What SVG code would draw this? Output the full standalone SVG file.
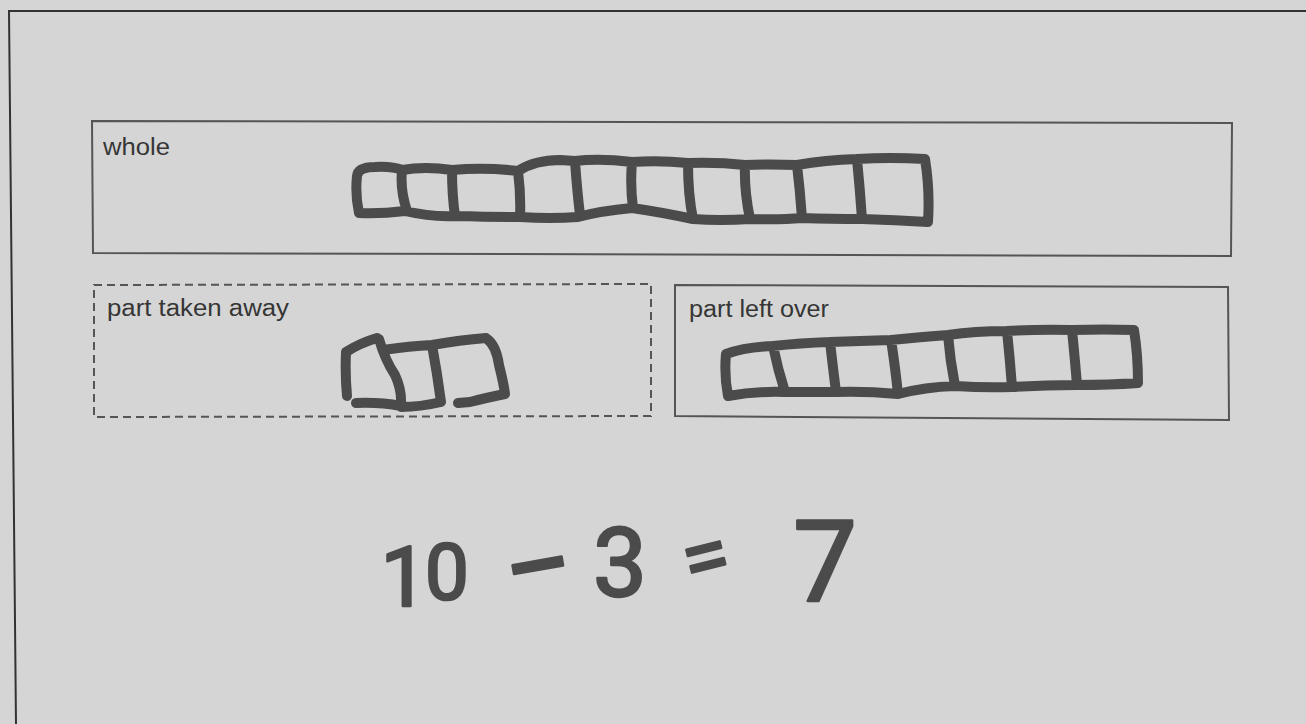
<svg xmlns="http://www.w3.org/2000/svg" width="1306" height="724" viewBox="0 0 1306 724">
<style>
.frame{fill:none;stroke:#333;stroke-width:2}
.box{fill:none;stroke:#555;stroke-width:2}
.dash{fill:none;stroke:#555;stroke-width:2;stroke-dasharray:8 5}
.marker{fill:none;stroke:#4b4b4b;stroke-width:10;stroke-linecap:round;stroke-linejoin:round}
.label{font-family:"Liberation Sans",Arial,sans-serif;font-size:23px;fill:#363636}
.eq{font-family:Roboto,"DejaVu Sans",sans-serif;fill:#4b4b4b;stroke:#4b4b4b;stroke-width:2.5;stroke-linejoin:round;text-anchor:middle}
</style>
<rect x="0" y="0" width="1306" height="724" fill="#d5d5d5"/>
<g id="frame">
<path class="frame" d="M16,724 L9,11 L1306,11"/>
</g>
<g id="whole">
<path class="box" d="M92,121 L1232,123 L1231,256 L93,253 Z"/>
<text class="label" x="103" y="155" textLength="67" lengthAdjust="spacingAndGlyphs">whole</text>
<path class="marker" d="M357,176 Q358,167 375,167 Q392,166 402,170 Q425,166 452,170 Q485,167 518,171 Q535,160 560,160 L575,161 Q600,158 632,162 Q660,160 688,163 Q718,162 745,165 Q770,164 797,165 Q825,160 857,159 Q890,157 925,159
M359,213 Q380,214 405,211 Q430,217 455,216 Q490,217 520,217 Q550,219 578,217 Q600,211 632,208 Q660,212 693,219 Q720,221 750,219 Q780,220 802,218 Q830,219 862,219 Q895,220 928,222
M357,176 Q355,195 359,213 M402,170 Q400,190 407,211 M452,170 Q452,195 455,216 M518,171 Q521,195 520,217 M575,161 Q577,190 580,215 M632,162 Q630,185 633,208 M688,163 Q688,195 693,219 M745,165 Q744,190 750,219 M797,165 Q800,190 802,218 M857,159 Q860,190 862,219 M925,159 Q930,190 928,222"/>
</g>
<g id="part-taken-away">
<path class="dash" d="M94,285 L651,284 L651,416 L94,417 Z"/>
<text class="label" x="107" y="316" textLength="182" lengthAdjust="spacingAndGlyphs">part taken away</text>
<path class="marker" d="M346,352 Q360,343 377,338 M379,339 Q385,360 395,375 Q402,390 401,405 M346,352 Q345,375 347,396 M356,403 Q380,402 401,406 M383,350 Q410,346 432,345 Q460,340 486,338 M432,345 Q437,372 441,402 M401,407 Q420,407 441,402 M487,339 Q496,345 499,365 Q504,385 505,394 M505,394 Q485,398 470,402 L458,403"/>
</g>
<g id="part-left-over">
<path class="box" d="M675,285 L1228,287 L1229,420 L675,416 Z"/>
<text class="label" x="689" y="317" textLength="140" lengthAdjust="spacingAndGlyphs">part left over</text>
<path class="marker" d="M726,354 Q745,347 773,346 Q800,343 830,342 Q860,341 891,340 Q920,337 948,335 Q975,331 1007,331 Q1040,329 1072,330 Q1105,329 1134,330
M728,396 Q755,391 785,392 Q810,392 836,392 Q865,391 898,394 Q925,387 955,386 Q985,388 1012,387 Q1045,385 1077,385 Q1110,385 1138,383
M726,354 Q724,375 728,396 M773,346 Q778,370 785,392 M830,342 Q833,368 836,392 M891,340 Q895,365 898,394 M948,335 Q950,360 955,386 M1007,331 Q1010,360 1012,387 M1072,330 Q1075,360 1077,385 M1134,330 Q1138,355 1138,383"/>
</g>
<g id="equation">
<text class="eq"><tspan x="404" y="606" font-size="84">1</tspan><tspan x="447" y="599" font-size="78">0</tspan><tspan x="546" y="614" font-size="122" rotate="-10">−</tspan><tspan x="620" y="596" font-size="96">3</tspan><tspan x="713" y="590" font-size="84" rotate="-14">=</tspan><tspan x="825" y="601" font-size="114">7</tspan></text>
</g>
</svg>
